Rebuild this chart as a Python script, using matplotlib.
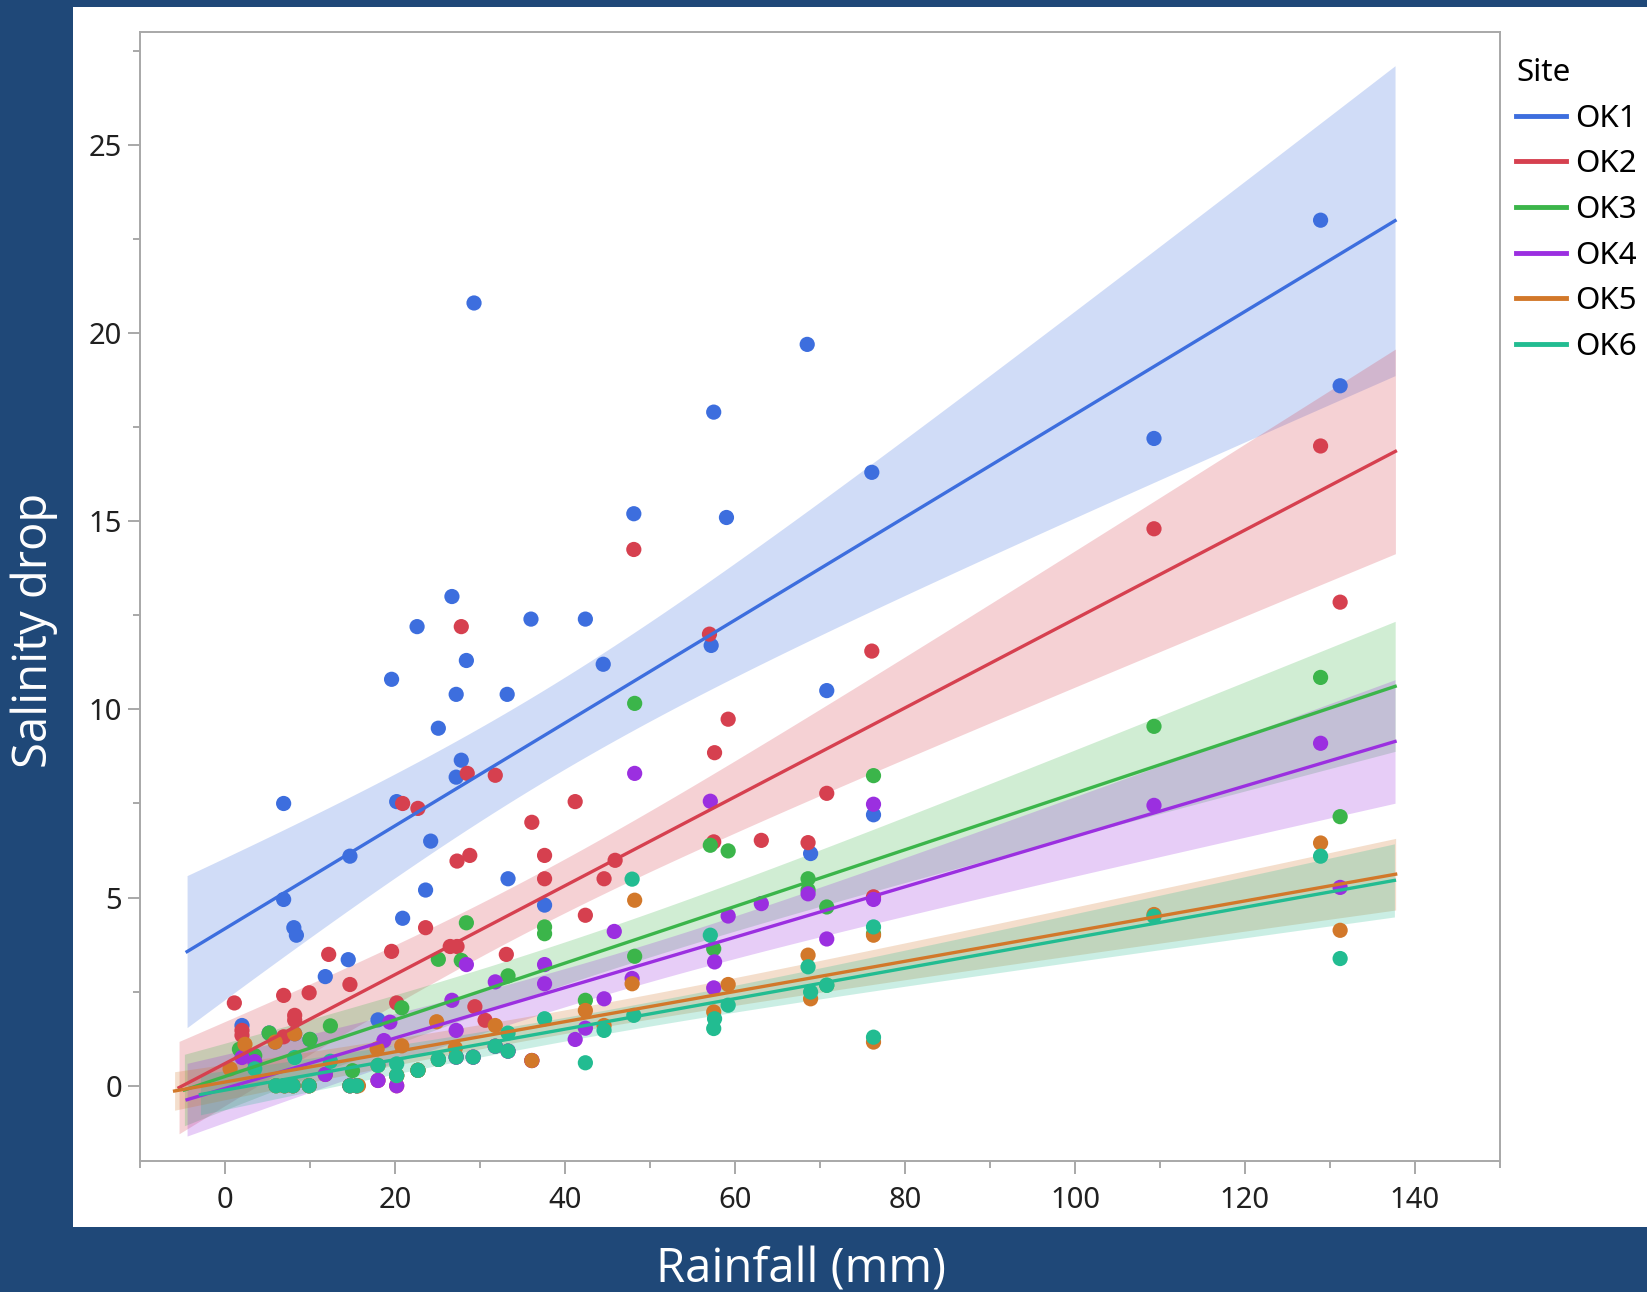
import numpy as np
import matplotlib.pyplot as plt
from matplotlib.patches import Rectangle
from matplotlib.ticker import MultipleLocator

# Site data: rainfall (mm) vs salinity drop
# (the last values of each list sit in the crowded corner, mostly covered by other sites)
ok1_x = [128.9, 131.2, 109.3, 76.1, 68.5, 57.5, 59.0, 48.1, 29.3, 57.2, 42.4, 36.0, 44.5, 26.7,
         22.6, 28.4, 19.6, 27.2, 33.2, 25.1, 27.8, 27.2, 70.8, 20.2, 6.9, 24.2, 14.7, 33.3, 23.6,
         6.9, 20.9, 8.1, 8.4, 14.5, 11.8, 37.6, 76.3, 68.9, 2.0, 18.0,
         5.9, 8.2, 5.2, 10.0]
ok1_y = [23.0, 18.6, 17.2, 16.3, 19.7, 17.9, 15.1, 15.2, 20.8, 11.7, 12.4, 12.4, 11.2, 13.0,
         12.2, 11.3, 10.8, 10.4, 10.4, 9.5, 8.65, 8.2, 10.5, 7.55, 7.5, 6.5, 6.1, 5.5, 5.2,
         4.95, 4.45, 4.2, 4.0, 3.35, 2.9, 4.8, 7.2, 6.17, 1.6, 1.75,
         1.16, 1.38, 1.4, 1.23]

ok2_x = [128.9, 109.3, 131.2, 48.1, 27.8, 57.0, 76.1, 59.2, 57.6, 28.5, 31.8, 41.2, 70.8, 20.9,
         22.7, 36.1, 37.6, 28.8, 27.3, 63.1, 68.6, 57.5, 45.9, 44.6, 37.6, 76.3, 42.4, 23.6,
         19.6, 26.5, 27.3, 33.1, 12.2, 14.7, 9.9, 6.9, 1.1, 8.2, 8.2, 2.0, 2.0, 6.9, 20.2,
         29.4, 30.6,
         7.0, 8.0, 9.9, 14.7, 15.5, 20.2, 22.7, 25.1, 27.2, 29.2, 36.1, 18.0, 20.2, 11.8,
         33.3, 31.8]
ok2_y = [17.0, 14.8, 12.85, 14.25, 12.2, 12.0, 11.55, 9.74, 8.85, 8.3, 8.25, 7.55, 7.77, 7.5,
         7.37, 7.0, 6.12, 6.12, 5.97, 6.52, 6.46, 6.48, 5.99, 5.5, 5.5, 5.02, 4.53, 4.2,
         3.57, 3.7, 3.7, 3.49, 3.49, 2.69, 2.47, 2.4, 2.2, 1.87, 1.74, 1.47, 1.34, 1.3, 2.2,
         2.1, 1.74,
         0.0, 0.0, 0.0, 0.0, 0.0, 0.27, 0.41, 0.7, 0.76, 0.76, 0.67, 0.14, 0.0, 0.3,
         0.92, 1.05]

ok3_x = [128.9, 109.3, 131.2, 48.2, 76.3, 59.2, 57.1, 68.6, 68.6, 37.6, 37.6, 76.3, 28.4, 25.1,
         27.8, 33.3, 42.4, 20.8, 12.4, 10.0, 5.2, 1.7, 57.5, 70.8, 48.2, 70.8, 3.5, 15.0,
         6.0, 7.0, 8.0, 9.9, 14.7, 15.5, 20.2, 22.7, 25.1]
ok3_y = [10.85, 9.55, 7.15, 10.16, 8.24, 6.24, 6.39, 5.5, 5.2, 4.22, 4.04, 4.04, 4.33, 3.36,
         3.33, 2.92, 2.27, 2.07, 1.59, 1.23, 1.4, 0.97, 3.64, 4.75, 3.44, 2.67, 0.8, 0.4,
         0.0, 0.0, 0.0, 0.0, 0.0, 0.0, 0.27, 0.41, 0.7]

ok4_x = [128.9, 109.3, 76.3, 48.2, 57.1, 70.8, 45.8, 59.2, 63.1, 76.3, 68.6, 57.6, 28.4, 37.6,
         37.6, 44.6, 31.8, 57.5, 47.9, 26.7, 41.2, 42.4, 27.2, 18.7, 19.4, 18.0, 20.2, 11.8,
         3.5, 2.0, 131.2,
         36.1, 33.3, 31.8, 29.2, 27.2, 14.7, 15.5]
ok4_y = [9.1, 7.45, 7.48, 8.3, 7.56, 3.9, 4.1, 4.51, 4.84, 4.95, 5.1, 3.29, 3.22, 3.22,
         2.71, 2.31, 2.76, 2.6, 2.85, 2.27, 1.23, 1.53, 1.47, 1.2, 1.69, 0.14, 0.0, 0.3,
         0.64, 0.75, 5.27,
         0.67, 0.92, 1.05, 0.76, 0.76, 0.0, 0.0]

ok5_x = [128.9, 131.2, 109.3, 48.2, 68.6, 47.9, 68.9, 59.2, 76.3, 36.1, 42.4, 31.8, 57.5, 27.1,
         15.7, 20.8, 8.2, 2.35, 0.6, 5.9, 17.9, 44.6, 24.9, 76.3,
         6.0, 7.0, 8.0, 9.9, 14.7, 15.5, 18.0, 20.2, 22.7]
ok5_y = [6.45, 4.13, 4.55, 4.93, 3.47, 2.71, 2.31, 2.69, 1.16, 0.67, 2.0, 1.6, 1.96, 1.0,
         0.0, 1.06, 1.38, 1.1, 0.45, 1.16, 0.98, 1.6, 1.7, 4.0,
         0.0, 0.0, 0.0, 0.0, 0.0, 0.0, 0.54, 0.27, 0.41]

ok6_x = [128.9, 131.2, 109.3, 76.3, 76.3, 68.6, 68.9, 70.8, 59.2, 57.6, 57.5, 57.1, 47.9, 48.1,
         44.6, 42.4, 37.6, 33.3, 33.3, 31.8, 29.2, 27.2, 25.1, 22.7, 20.2, 20.2, 18.0, 14.7,
         15.5, 9.9, 6.0, 7.0, 8.0, 12.4, 8.2, 3.5]
ok6_y = [6.1, 3.38, 4.5, 1.29, 4.22, 3.16, 2.49, 2.67, 2.14, 1.78, 1.52, 4.0, 5.49, 1.87,
         1.47, 0.61, 1.78, 1.4, 0.92, 1.05, 0.76, 0.76, 0.7, 0.41, 0.27, 0.58, 0.54, 0.0,
         0.0, 0.0, 0.0, 0.0, 0.0, 0.65, 0.75, 0.45]

sites = ['OK1', 'OK2', 'OK3', 'OK4', 'OK5', 'OK6']
xs_all = [ok1_x, ok2_x, ok3_x, ok4_x, ok5_x, ok6_x]
ys_all = [ok1_y, ok2_y, ok3_y, ok4_y, ok5_y, ok6_y]
colors = ['#3D6EDE', '#D6404F', '#3BB54A', '#9B2FE0', '#D2782A', '#22BC91']

bg = '#1F4878'
tick_size = 21


def fit_with_band(x, y):
    x = np.asarray(x, float)
    y = np.asarray(y, float)
    n = len(x)
    b, a = np.polyfit(x, y, 1)
    rng = x.max() - x.min()
    grid = np.linspace(x.min() - 0.05 * rng, x.max() + 0.05 * rng, 100)
    fit = a + b * grid
    s = np.sqrt(np.sum((y - (a + b * x)) ** 2) / (n - 2))
    sxx = np.sum((x - x.mean()) ** 2)
    se = s * np.sqrt(1.0 / n + (grid - x.mean()) ** 2 / sxx)
    t = 1.96 + 2.37 / (n - 2)  # approx 95% t quantile
    return grid, fit, fit - t * se, fit + t * se


fig = plt.figure(figsize=(16.47, 12.92), dpi=100, facecolor=bg)
fig.add_artist(Rectangle((0.0446, 0.0503), 0.9554, 0.9443, transform=fig.transFigure,
                         facecolor='white', edgecolor='none', zorder=0))

ax = fig.add_axes([0.0850, 0.1014, 0.8257, 0.8738])
ax.set_facecolor('white')

for name, x, y, c in zip(sites, xs_all, ys_all, colors):
    grid, fit, lo, hi = fit_with_band(x, y)
    ax.fill_between(grid, lo, hi, color=c, alpha=0.24, linewidth=0, zorder=1)
    ax.scatter(x, y, s=120, color=c, edgecolors='none', zorder=2)
    ax.plot(grid, fit, color=c, lw=2.4, zorder=3, label=name)

ax.set_xlim(-10, 150)
ax.set_ylim(-2, 28)
ax.xaxis.set_major_locator(MultipleLocator(20))
ax.xaxis.set_minor_locator(MultipleLocator(10))
ax.yaxis.set_major_locator(MultipleLocator(5))
ax.yaxis.set_minor_locator(MultipleLocator(2.5))

for sp in ax.spines.values():
    sp.set_color('#A8A8A8')
    sp.set_linewidth(1.4)
ax.tick_params(which='major', length=9, width=1.4, color='#A8A8A8',
               labelsize=tick_size, labelcolor='#202020')
ax.tick_params(which='minor', length=5, width=1.4, color='#A8A8A8')
ax.tick_params(axis='x', which='major', pad=9)
ax.tick_params(axis='y', which='major', pad=4)
for lab in ax.get_xticklabels() + ax.get_yticklabels():
    lab.set_family('Noto Sans')

leg = ax.legend(title='Site', loc='upper left', bbox_to_anchor=(0.9205, 0.955),
                bbox_transform=fig.transFigure, frameon=False, alignment='left',
                handlelength=1.6, handletextpad=0.3, labelspacing=0.5,
                borderpad=0, borderaxespad=0,
                prop={'family': 'Noto Sans', 'size': 22.5})
leg.get_title().set_fontsize(22.5)
leg.get_title().set_family('Noto Sans')
for line in leg.get_lines():
    line.set_linewidth(3.5)

fig.text(0.021, 0.5124, 'Salinity drop', rotation=90, color='white', fontsize=34,
         family='Open Sans', ha='center', va='center')
fig.text(0.4865, 0.017, 'Rainfall (mm)', color='white', fontsize=34,
         family='Open Sans', ha='center', va='center')

fig.savefig('out.png', dpi=100, facecolor=bg)
